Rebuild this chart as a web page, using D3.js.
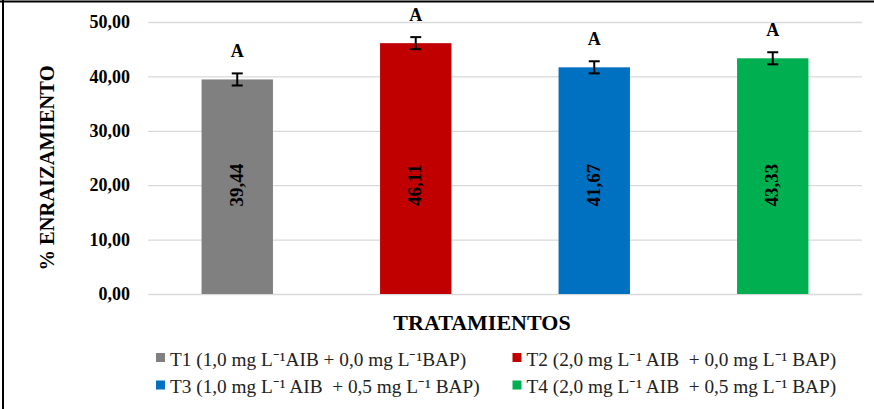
<!DOCTYPE html>
<html><head><meta charset="utf-8">
<script src="https://cdn.jsdelivr.net/npm/d3@7"></script>
<style>body{margin:0;background:#fff}svg{display:block}svg text{font-family:'Liberation Serif',serif}</style>
</head><body>
<svg id="c" width="874" height="409"></svg>
<script>
const categories = ["T1","T2","T3","T4"];
const values = [39.44, 46.11, 41.67, 43.33];
const errors = [1.11, 1.11, 1.11, 1.11];
const letters = ["A","A","A","A"];
const colors = ["#808080","#C00000","#0070C0","#00B050"];
const yTicks = [0,10,20,30,40,50];
const legendLabels = [
  "T1 (1,0 mg L\u207B\u00B9AIB + 0,0 mg L\u207B\u00B9BAP)",
  "T2 (2,0 mg L\u207B\u00B9 AIB  + 0,0 mg L\u207B\u00B9 BAP)",
  "T3 (1,0 mg L\u207B\u00B9 AIB  + 0,5 mg L\u207B\u00B9 BAP)",
  "T4 (2,0 mg L\u207B\u00B9 AIB  + 0,5 mg L\u207B\u00B9 BAP)"
];

const svg = d3.select("#c");
const F = "'Liberation Serif',serif";
const L = 148, R = 862, T = 22, B = 294;
const x = d3.scaleBand().domain(categories).range([L, R]).paddingInner(0.6).paddingOuter(0.3);
const y = d3.scaleLinear().domain([0, 50]).range([B, T]);

// frame
svg.append("line").attr("x1",3).attr("x2",3).attr("y1",0).attr("y2",409).attr("stroke","#000").attr("stroke-width",2);
svg.append("line").attr("x1",0).attr("x2",874).attr("y1",1.5).attr("y2",1.5).attr("stroke","#000").attr("stroke-width",2);

// grid + y axis
const yAxis = d3.axisLeft(y).tickValues(yTicks).tickSize(-(R-L)).tickPadding(18)
  .tickFormat(d => d3.format(".2f")(d).replace(".", ","));
const ga = svg.append("g").attr("transform",`translate(${L},0)`).call(yAxis);
ga.attr("font-family", null);
ga.select(".domain").remove();
ga.selectAll(".tick line").attr("stroke","#D9D9D9").attr("stroke-width",1.3);
ga.selectAll(".tick text").style("font-family",F).style("font-weight","bold").style("font-size","18px").attr("fill","#000");

// bars
svg.selectAll("rect.bar").data(categories).join("rect")
  .attr("x", d => x(d)).attr("width", x.bandwidth())
  .attr("y", (d,i) => y(values[i])).attr("height", (d,i) => y(0) - y(values[i]))
  .attr("fill", (d,i) => colors[i]);

// error bars
const eb = svg.append("g").attr("stroke","#000").attr("stroke-width",2);
categories.forEach((c,i) => {
  const cx = x(c) + x.bandwidth()/2;
  const y1 = y(values[i]+errors[i]), y2 = y(values[i]-errors[i]);
  eb.append("line").attr("x1",cx).attr("x2",cx).attr("y1",y1).attr("y2",y2);
  eb.append("line").attr("x1",cx-5.5).attr("x2",cx+5.5).attr("y1",y1).attr("y2",y1);
  eb.append("line").attr("x1",cx-5.5).attr("x2",cx+5.5).attr("y1",y2).attr("y2",y2);
});

// letters
svg.selectAll("text.let").data(categories).join("text")
  .attr("x", d => x(d) + x.bandwidth()/2)
  .attr("y", (d,i) => y(values[i]+errors[i]) - 16)
  .attr("text-anchor","middle").style("font-family",F).style("font-weight","bold").style("font-size","18px")
  .text((d,i) => letters[i]);

// value labels
svg.selectAll("text.val").data(categories).join("text")
  .attr("transform", d => `translate(${x(d)+x.bandwidth()/2},${y(20)}) rotate(-90)`)
  .attr("text-anchor","middle").attr("dy","0.3em")
  .style("font-family",F).style("font-weight","bold").style("font-size","19px").attr("fill","#000")
  .text((d,i) => d3.format(".2f")(values[i]).replace(".", ","));

// axis titles
svg.append("text").attr("transform",`translate(54,168) rotate(-90)`).attr("text-anchor","middle")
  .style("font-family",F).style("font-weight","bold").style("font-size","20.5px").text("% ENRAIZAMIENTO");
svg.append("text").attr("x",482).attr("y",330).attr("text-anchor","middle")
  .style("font-family",F).style("font-weight","bold").style("font-size","22px").text("TRATAMIENTOS");

// legend
const pos = [[156,353],[512.5,353],[156,380.5],[512.5,380.5]];
categories.forEach((c,i) => {
  const [lx, ly] = pos[i];
  svg.append("rect").attr("x",lx).attr("y",ly).attr("width",9).attr("height",9).attr("fill",colors[i]);
  svg.append("text").attr("x",lx+14).attr("y",ly+12.5).style("font-family",F).style("font-size","19.3px")
    .attr("fill","#222").attr("xml:space","preserve").style("white-space","pre").text(legendLabels[i]);
});
</script>
</body></html>
